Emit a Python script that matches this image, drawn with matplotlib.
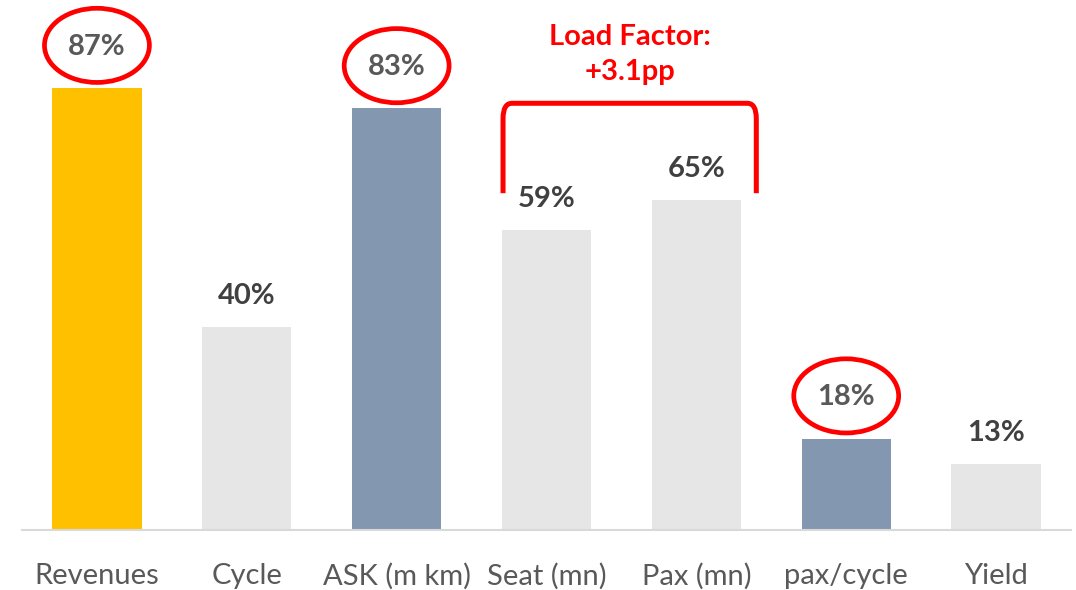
import matplotlib.pyplot as plt
from matplotlib.patches import Ellipse, PathPatch
from matplotlib.path import Path

categories = ["Revenues", "Cycle", "ASK (m km)", "Seat (mn)", "Pax (mn)", "pax/cycle", "Yield"]
growth = [87, 40, 83, 59, 65, 18, 13]
highlighted = [True, False, True, False, False, True, False]
bar_colors = ["#FFC000", "#E6E6E6", "#8497B0", "#E6E6E6", "#E6E6E6", "#8497B0", "#E6E6E6"]
load_factor_note = "Load Factor:\n+3.1pp"

plt.rcParams["font.family"] = ["Lato", "DejaVu Sans"]

fig = plt.figure(figsize=(10.76, 5.9), dpi=100)
ax = fig.add_axes([22 / 1076, 60 / 590, 1049 / 1076, 508 / 590])

x = range(len(categories))
ax.bar(x, growth, width=0.595, color=bar_colors, zorder=2)
ax.set_xlim(-0.5, len(categories) - 0.5)
ax.set_ylim(0, 100)

for i, (v, hl) in enumerate(zip(growth, highlighted)):
    y = v + (8.1 if hl else 6.1)
    ax.text(i, y, f"{v}%", ha="center", va="center", fontsize=21,
            fontweight="bold", color="#595959" if hl else "#404040")
    if hl:
        ax.add_patch(Ellipse((i, y + 0.3), 0.70, 14.6, fill=False,
                             edgecolor="#FF0000", lw=3.4, zorder=3,
                             clip_on=False))

# bracket spanning the seat and pax bars
x0, x1, ytop, ybot, rx, ry = 2.71, 4.40, 84.0, 66.3, 0.06, 3.0
verts = [(x0, ybot), (x0, ytop - ry), (x0, ytop), (x0 + rx, ytop),
         (x1 - rx, ytop), (x1, ytop), (x1, ytop - ry), (x1, ybot)]
codes = [Path.MOVETO, Path.LINETO, Path.CURVE3, Path.CURVE3,
         Path.LINETO, Path.CURVE3, Path.CURVE3, Path.LINETO]
ax.add_patch(PathPatch(Path(verts, codes), fill=False, edgecolor="#FF0000",
                       lw=3.6, capstyle="butt", joinstyle="round",
                       clip_on=False))
ax.text(3.555, 93.6, load_factor_note, ha="center", va="center", fontsize=21,
        fontweight="bold", color="#FF0000", linespacing=1.45)

ax.set_xticks(list(x))
ax.set_xticklabels(categories, fontsize=21, color="#595959")
ax.tick_params(axis="x", length=0, pad=24)
ax.set_yticks([])
for side in ["top", "right", "left"]:
    ax.spines[side].set_visible(False)
ax.spines["bottom"].set_color("#D9D9D9")
ax.spines["bottom"].set_linewidth(1.5)

fig.savefig("out.png", dpi=100)
